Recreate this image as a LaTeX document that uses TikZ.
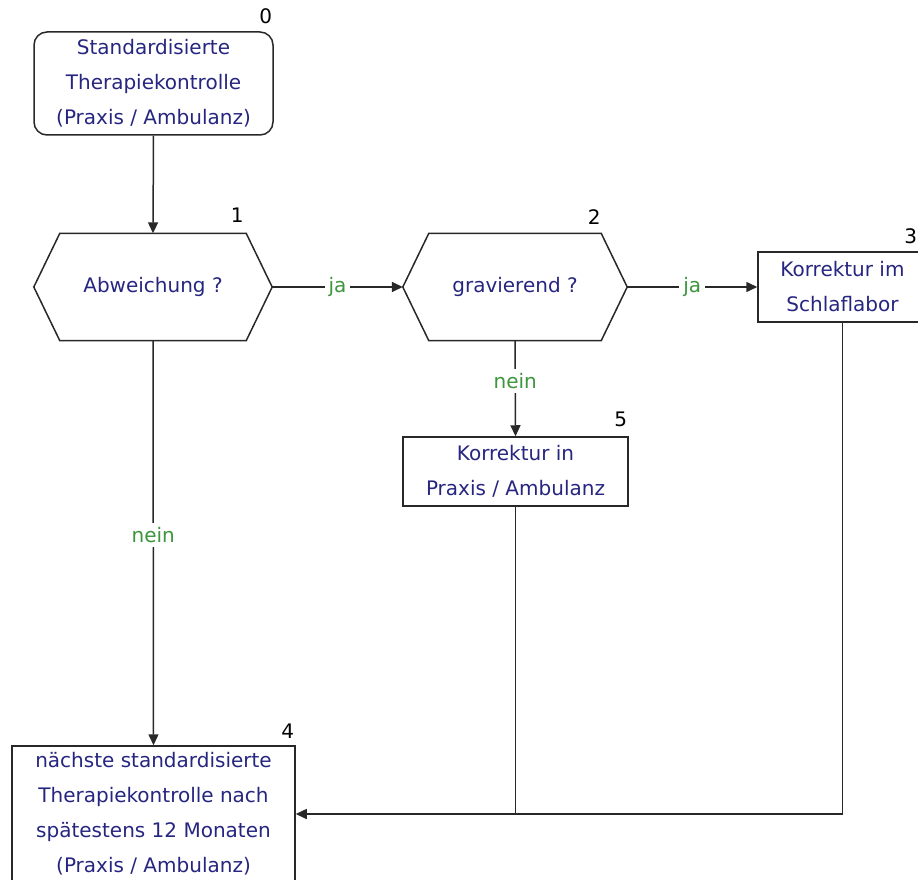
\documentclass[tikz,border=0pt]{standalone}
\usepackage{fontspec}
\setmainfont{DejaVu Sans}
\usetikzlibrary{arrows.meta,calc}
\definecolor{txtblue}{RGB}{38,38,128}
\definecolor{lblgreen}{RGB}{60,150,60}
\definecolor{linegray}{RGB}{40,40,40}
\begin{document}
\begin{tikzpicture}[x=1pt,y=-1pt,
  every node/.style={font=\fontsize{20}{35}\selectfont},
  boxnode/.style={draw=linegray, line width=1.5pt, fill=white, text=txtblue, align=center, inner sep=0pt},
  hexnode/.style={draw=none, text=txtblue, align=center, inner sep=0pt},
  hexline/.style={draw=linegray, line width=1.5pt, line join=miter},
  numlbl/.style={text=black, inner sep=0pt},
  conn/.style={draw=linegray, line width=1.5pt},
  arr/.style={conn, -{Triangle[length=11pt,width=10pt]}},
  yesno/.style={text=lblgreen, fill=white, inner sep=4pt}
]
\useasboundingbox (0,0) rectangle (918,880);
\clip (0,0) rectangle (918,880);

% nodes
\node[boxnode, rounded corners=13pt, minimum width=239, minimum height=103] (s0) at (153.5,83.5)
  {Standardisierte\\Therapiekontrolle\\(Praxis / Ambulanz)};
\node[hexnode, minimum width=238, minimum height=107] (h1) at (153,287) {Abweichung ?};
\node[hexnode, minimum width=224, minimum height=107] (h2) at (515,287) {gravierend ?};
\node[boxnode, minimum width=169, minimum height=70] (b3) at (842.5,287) {Korrektur im\\Schlaflabor};
\node[boxnode, minimum width=225, minimum height=69] (b5) at (515.5,471.5) {Korrektur in\\Praxis / Ambulanz};
\node[boxnode, minimum width=283, minimum height=136] (b4) at (153.5,814)
  {nächste standardisierte\\Therapiekontrolle nach\\spätestens 12 Monaten\\(Praxis / Ambulanz)};

% hexagon outlines
\draw[hexline] (h1.west) -- ($(h1.north west)+(26,0)$) -- ($(h1.north east)+(-26,0)$) -- (h1.east)
  -- ($(h1.south east)+(-26,0)$) -- ($(h1.south west)+(26,0)$) -- cycle;
\draw[hexline] (h2.west) -- ($(h2.north west)+(26,0)$) -- ($(h2.north east)+(-26,0)$) -- (h2.east)
  -- ($(h2.south east)+(-26,0)$) -- ($(h2.south west)+(26,0)$) -- cycle;

% number labels
\node[numlbl] (n0) at ($(s0.north east)+(-8,-15)$) {0};
\node[numlbl] (n1) at ($(h1.north east)+(-35,-18)$) {1};
\node[numlbl] (n2) at ($(h2.north east)+(-33,-16)$) {2};
\node[numlbl] (n3) at ($(b3.north east)+(-17,-15)$) {3};
\node[numlbl] (n5) at ($(b5.north east)+(-8,-17)$) {5};
\node[numlbl] (n4) at ($(b4.north east)+(-8,-14)$) {4};

% connectors
\draw[arr] (s0.south) -- (h1.north);
\draw[arr] (h1.east) -- node[yesno] (ja1) {ja} (h2.west);
\draw[arr] (h2.east) -- node[yesno] (ja2) {ja} (b3.west);
\draw[arr] (h2.south) -- node[yesno, pos=0.42] (nein2) {nein} (b5.north);
\draw[arr] (h1.south) -- node[yesno, pos=0.48] (nein1) {nein} (b4.north);
\draw[arr] (b3.south) |- (b4.east);
\coordinate (j5) at (b5.south |- b4.east);
\draw[conn] (b5.south) -- (j5);
\end{tikzpicture}
\end{document}
